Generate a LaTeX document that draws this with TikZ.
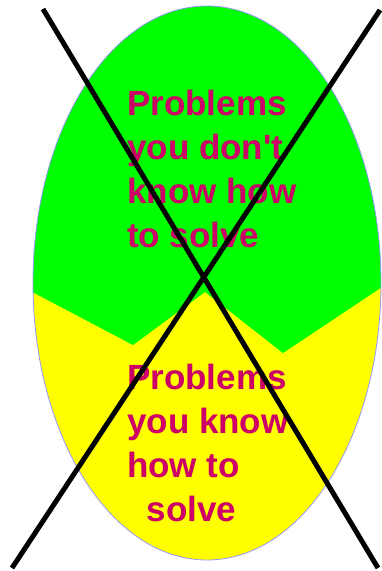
\documentclass[tikz,border=0pt]{standalone}
\usepackage{fontspec}
\usepackage{xcolor}
\usepackage{tikz}
\usetikzlibrary{positioning}
\newfontfamily\handfont{Liberation Sans}
\definecolor{eggGreen}{RGB}{0,255,0}
\definecolor{eggYellow}{RGB}{255,255,0}
\definecolor{eggEdge}{RGB}{150,150,255}
\definecolor{textPink}{RGB}{204,0,102}

\begin{document}
\begin{tikzpicture}[
  x=1pt, y=-1pt,
  lbl/.style={anchor=north west, inner sep=0pt, align=left, text=textPink,
              font=\handfont\bfseries\fontsize{35}{44}\selectfont},
  cross/.style={line width=5pt, black},
]
\useasboundingbox (0,0) rectangle (381,571);
\fill[white] (0,0) rectangle (381,571);
%% Egg
\fill[eggYellow] (207,283) ellipse [x radius=174, y radius=277];
\begin{scope}
  \clip (207,283) ellipse [x radius=174, y radius=277];
  \fill[eggGreen] (0,0) -- (0,275) -- (133,345) -- (205,292) -- (283,353)
                  -- (400,275) -- (400,0) -- cycle;
\end{scope}
\draw[eggEdge, line width=0.8pt] (207,283) ellipse [x radius=174, y radius=277];
%% Labels
\node[lbl] at (127,90) (top) {Problems\\you don't\\know how\\to solve};
\node[lbl] at (127,364) (bot) {Problems\\you know\\how to\\\ \ solve};
%% Cross
\coordinate (a1) at (43,9);
\coordinate (a2) at (378,568);
\coordinate (b1) at (380,10);
\coordinate (b2) at (12,568);
\draw[cross] (a1) -- (a2);
\draw[cross] (b1) -- (b2);
\end{tikzpicture}
\end{document}
